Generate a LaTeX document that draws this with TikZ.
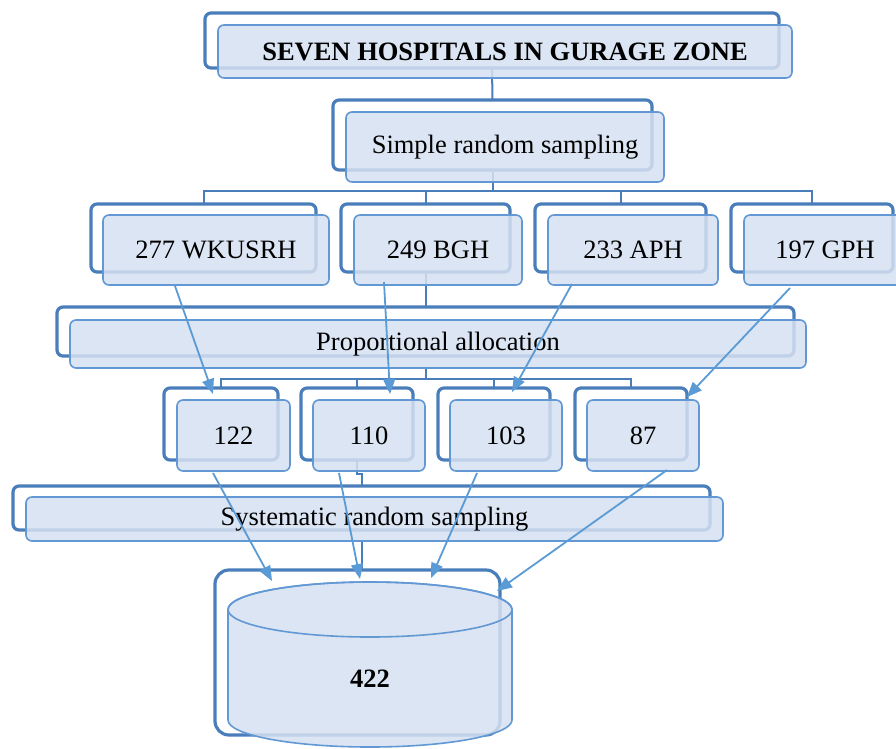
\documentclass[tikz,border=0pt]{standalone}
\usepackage{fontspec}
\setmainfont{Liberation Serif}
\usetikzlibrary{arrows.meta,calc}
\definecolor{backblue}{RGB}{74,126,187}
\definecolor{frontblue}{RGB}{98,152,211}
\definecolor{fillblue}{RGB}{213,224,241}
\definecolor{arrowblue}{RGB}{91,155,213}
\begin{document}
\begin{tikzpicture}[x=1pt,y=-1pt,
 backbox/.style={draw=backblue,line width=3.2pt,rounded corners=6pt,inner sep=0pt,outer sep=0pt},
 frontbox/.style={draw=frontblue,line width=1.6pt,fill=fillblue,fill opacity=0.85,text opacity=1,rounded corners=6pt,inner sep=0pt,outer sep=0pt,font=\fontsize{26.5}{30}\selectfont},
 tree/.style={draw=backblue,line width=2pt},
 arr/.style={draw=arrowblue,line width=1.8pt,-{Triangle[length=15pt,width=12pt]}}]
\useasboundingbox (0,0) rectangle (896,748);

% back boxes
\node[backbox,minimum width=574,minimum height=55] (tb) at (492,40.5) {};
\node[backbox,minimum width=319,minimum height=70] (rb) at (492.5,135) {};
\node[backbox,minimum width=225,minimum height=68] (h1b) at (203.5,238) {};
\node[backbox,minimum width=169,minimum height=68] (h2b) at (425.5,238) {};
\node[backbox,minimum width=171,minimum height=68] (h3b) at (620.5,238) {};
\node[backbox,minimum width=162,minimum height=68] (h4b) at (812,238) {};
\node[backbox,minimum width=737,minimum height=49] (pb) at (425.5,331.5) {};
\node[backbox,minimum width=114,minimum height=72] (s1b) at (221,424) {};
\node[backbox,minimum width=112,minimum height=72] (s2b) at (357,424) {};
\node[backbox,minimum width=112,minimum height=72] (s3b) at (494,424) {};
\node[backbox,minimum width=112,minimum height=72] (s4b) at (631,424) {};
\node[backbox,minimum width=697,minimum height=44] (yb) at (361.5,508) {};
\node[backbox,minimum width=285,minimum height=165,rounded corners=14pt] (cb) at (357.5,652.5) {};

% tree connectors
\draw[tree] (tb.south) -- (rb.north);
\draw[tree] (rb.south) -- ++(0,21) coordinate (bus1);
\draw[tree] (h1b.north) -- ++(0,-13) -| (h4b.north);
\draw[tree] (h2b.north) -- ++(0,-13);
\draw[tree] (h3b.north) -- ++(0,-13);
\draw[tree] (h2b.south) -- (pb.north);
\draw[tree] (pb.south) ++(0,12) coordinate (pbot) -- ++(0,11) coordinate (bus2);
\draw[tree] (s1b.north) -- ++(0,-9) -| (s4b.north);
\draw[tree] (s2b.north) -- ++(0,-9);
\draw[tree] (s3b.north) -- ++(0,-9);
\draw[tree] (s2b.south) -- ++(0,14) -| (yb.north);
\draw[tree] (yb.south) ++(0,11) coordinate (ybot) -- (ybot |- cb.north);

% front boxes
\node[frontbox,minimum width=574,minimum height=53,font=\fontsize{26.5}{30}\selectfont\bfseries] (t) at (505,51.5) {SEVEN HOSPITALS IN GURAGE ZONE};
\node[frontbox,minimum width=318,minimum height=70] (r) at (505,147) {Simple random sampling};
\node[frontbox,minimum width=226,minimum height=70] (h1) at (216,250) {277 WKUSRH};
\node[frontbox,minimum width=168,minimum height=70] (h2) at (438,250) {249 BGH};
\node[frontbox,minimum width=170,minimum height=70] (h3) at (633,250) {233 APH};
\node[frontbox,minimum width=162,minimum height=70] (h4) at (825,250) {197 GPH};
\node[frontbox,minimum width=736,minimum height=48] (p) at (438,344) {Proportional allocation};
\node[frontbox,minimum width=113,minimum height=71] (s1) at (233.5,435.5) {122};
\node[frontbox,minimum width=112,minimum height=71] (s2) at (369,435.5) {110};
\node[frontbox,minimum width=112,minimum height=71] (s3) at (506,435.5) {103};
\node[frontbox,minimum width=112,minimum height=71] (s4) at (643,435.5) {87};
\node[frontbox,minimum width=697,minimum height=44] (y) at (374.5,519) {Systematic random sampling};

% cylinder
\path[draw=frontblue,line width=1.6pt,fill=fillblue,fill opacity=0.85]
  (228,609.5) -- (228,720) arc[start angle=180,end angle=360,x radius=142pt,y radius=27pt]
  -- (512,609.5) arc[start angle=0,end angle=180,x radius=142pt,y radius=27.5pt] -- cycle;
\draw[draw=frontblue,line width=1.6pt] (370,609.5) ellipse [x radius=142pt,y radius=27.5pt];
\node[font=\fontsize{26.5}{30}\selectfont\bfseries] (c) at (370,679) {422};

% arrows
\coordinate (a1s) at (175,286); \coordinate (a1e) at (213,394);
\coordinate (a2s) at (384,282); \coordinate (a2e) at (390,394);
\coordinate (a3s) at (572,284); \coordinate (a3e) at (512,392);
\coordinate (a4s) at (790,288); \coordinate (a4e) at (687,397);
\coordinate (b1s) at (213,473); \coordinate (b1e) at (272,581);
\coordinate (b2s) at (339,473); \coordinate (b2e) at (360,579);
\coordinate (b3s) at (477,473); \coordinate (b3e) at (431,578);
\coordinate (b4s) at (667,470); \coordinate (b4e) at (497,591);
\draw[arr] (a1s) -- (a1e);
\draw[arr] (a2s) -- (a2e);
\draw[arr] (a3s) -- (a3e);
\draw[arr] (a4s) -- (a4e);
\draw[arr] (b1s) -- (b1e);
\draw[arr] (b2s) -- (b2e);
\draw[arr] (b3s) -- (b3e);
\draw[arr] (b4s) -- (b4e);
\end{tikzpicture}
\end{document}
